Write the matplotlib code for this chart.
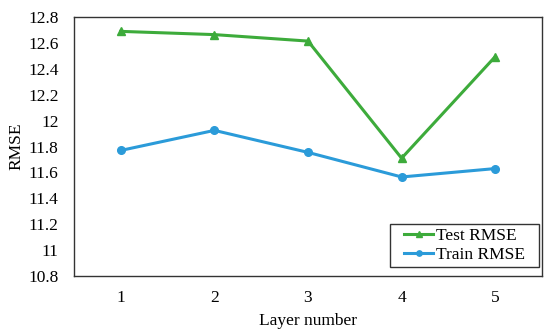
import matplotlib
matplotlib.use("Agg")
import matplotlib.pyplot as plt
from matplotlib.patches import Rectangle

layers = [1, 2, 3, 4, 5]
test_rmse = [12.69, 12.665, 12.615, 11.71, 12.495]
train_rmse = [11.77, 11.925, 11.755, 11.565, 11.63]
yticks = [10.8, 11.0, 11.2, 11.4, 11.6, 11.8, 12.0, 12.2, 12.4, 12.6, 12.8]
ytick_labels = ["10.8", "11", "11.2", "11.4", "11.6", "11.8", "12", "12.2", "12.4", "12.6", "12.8"]

plt.rcParams['font.family'] = ['Liberation Serif', 'DejaVu Serif']

fig = plt.figure(figsize=(5.5, 3.36), dpi=100)
ax = fig.add_axes([0.1345, 0.1786, 0.851, 0.7704])

ax.plot(layers, test_rmse, color='#3dab3b', lw=2.2, marker='^', ms=6, label='Test RMSE')
ax.plot(layers, train_rmse, color='#2b9bd9', lw=2.2, marker='o', ms=5.5, label='Train RMSE')

ax.set_xlim(0.5, 5.5)
ax.set_ylim(10.8, 12.8)
ax.set_xticks(layers)
ax.set_xticklabels([str(l) for l in layers])
ax.set_yticks(yticks)
ax.set_yticklabels(ytick_labels)
ax.tick_params(length=0, labelsize=12.5)
ax.tick_params(axis='y', pad=11)
ax.tick_params(axis='x', pad=10)
for s in ax.spines.values():
    s.set_color('#333333')
    s.set_linewidth(1.0)

ax.set_xlabel('Layer number', fontsize=12.5, labelpad=5)
ax.set_ylabel('RMSE', fontsize=12.5, labelpad=3)

# legend frame drawn separately for exact padding
x0, x1, y0, y1 = 0.675, 0.9936, 0.0347, 0.2008
ax.add_patch(Rectangle((x0, y0), x1 - x0, y1 - y0, transform=ax.transAxes,
                       facecolor='white', edgecolor='#333333', lw=1.0, zorder=4))
leg = ax.legend(loc='center', bbox_to_anchor=((x0 + x1) / 2, (y0 + y1) / 2), frameon=False,
                fontsize=12.5, handlelength=1.7, borderpad=0, borderaxespad=0,
                labelspacing=0.15, handletextpad=0.15, markerscale=0.7)
leg.set_zorder(5)

fig.savefig('out.png', dpi=100)
